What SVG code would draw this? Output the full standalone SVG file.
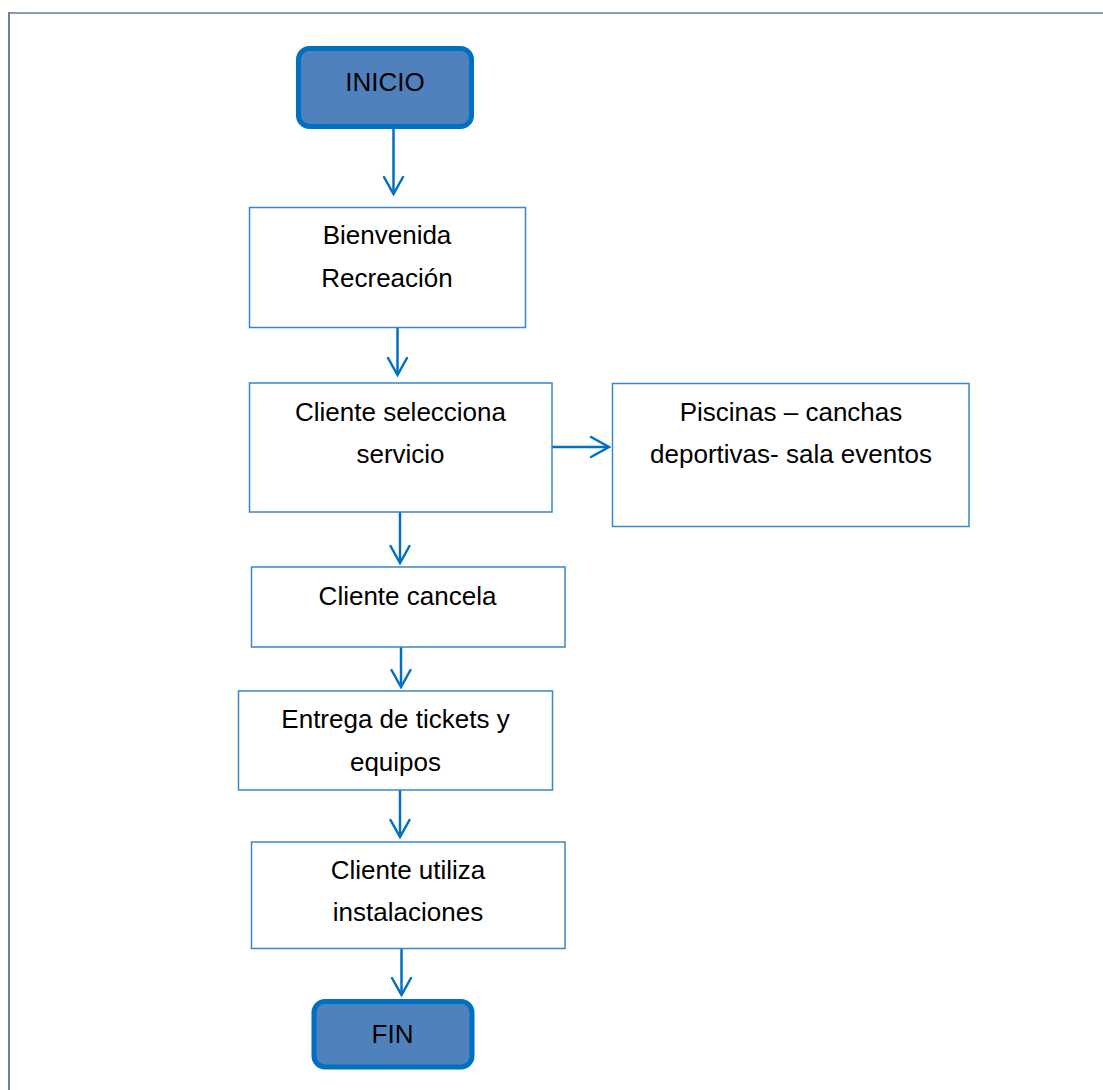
<svg xmlns="http://www.w3.org/2000/svg" width="1103" height="1090" viewBox="0 0 1103 1090">
<defs>
<style>
.box{fill:#ffffff;stroke:#3a87c8;stroke-width:1.5}
.term{fill:#4f81bd;stroke:#0070c0;stroke-width:5}
.t{font-family:"Liberation Sans",Arial,sans-serif;font-size:26px;fill:#000000;text-anchor:middle}
.c{fill:none;stroke:#0070c0;stroke-width:2.5}
.h{fill:none;stroke:#0070c0;stroke-width:2.5;stroke-linecap:round;stroke-linejoin:miter}
</style>
</defs>
<rect width="1103" height="1090" fill="#ffffff"/>
<g id="page-border">
<line x1="8" y1="13" x2="1103" y2="13" stroke="#8d9bae" stroke-width="2"/>
<line x1="9" y1="12" x2="9" y2="1090" stroke="#6f8099" stroke-width="2"/>
</g>
<g id="connectors">
<line class="c" x1="393.5" y1="129" x2="393.5" y2="193"/>
<polyline class="h" points="384,177 393.5,194 403,177"/>
<line class="c" x1="397.5" y1="325" x2="397.5" y2="374"/>
<polyline class="h" points="388,358 397.5,375 407,358"/>
<line class="c" x1="552" y1="447" x2="608" y2="447"/>
<polyline class="h" points="591,437 609,447 591,457"/>
<line class="c" x1="400" y1="500" x2="400" y2="562"/>
<polyline class="h" points="390.5,546 400,563 409.5,546"/>
<line class="c" x1="401" y1="647" x2="401" y2="686"/>
<polyline class="h" points="391.5,670 401,687 410.5,670"/>
<line class="c" x1="400" y1="790" x2="400" y2="836"/>
<polyline class="h" points="390.5,820 400,837 409.5,820"/>
<line class="c" x1="401.5" y1="948" x2="401.5" y2="994"/>
<polyline class="h" points="392,978 401.5,995 411,978"/>
</g>
<g id="inicio">
<rect class="term" x="298.5" y="48.5" width="173" height="78" rx="11"/>
<text class="t" x="385" y="91">INICIO</text>
</g>
<g id="bienvenida">
<rect class="box" x="249.5" y="207.5" width="276" height="120"/>
<text class="t" x="387" y="244">Bienvenida</text>
<text class="t" x="387" y="286.5">Recreación</text>
</g>
<g id="selecciona">
<rect class="box" x="249.5" y="383" width="302.5" height="129"/>
<text class="t" x="400.5" y="421">Cliente selecciona</text>
<text class="t" x="400.5" y="462.5">servicio</text>
</g>
<g id="piscinas">
<rect class="box" x="612.5" y="383.5" width="356.5" height="143"/>
<text class="t" x="791" y="421">Piscinas – canchas</text>
<text class="t" x="791" y="462.5">deportivas- sala eventos</text>
</g>
<g id="cancela">
<rect class="box" x="251.5" y="567" width="313.5" height="80"/>
<text class="t" x="407.5" y="605">Cliente cancela</text>
</g>
<g id="entrega">
<rect class="box" x="238.5" y="691" width="314" height="99"/>
<text class="t" x="395.5" y="728">Entrega de tickets y</text>
<text class="t" x="395.5" y="770.5">equipos</text>
</g>
<g id="utiliza">
<rect class="box" x="251.5" y="842" width="313.5" height="106.5"/>
<text class="t" x="408" y="879">Cliente utiliza</text>
<text class="t" x="408" y="921">instalaciones</text>
</g>
<g id="fin">
<rect class="term" x="314" y="1001.5" width="158" height="65.5" rx="11"/>
<text class="t" x="392.5" y="1042.5">FIN</text>
</g>
</svg>
